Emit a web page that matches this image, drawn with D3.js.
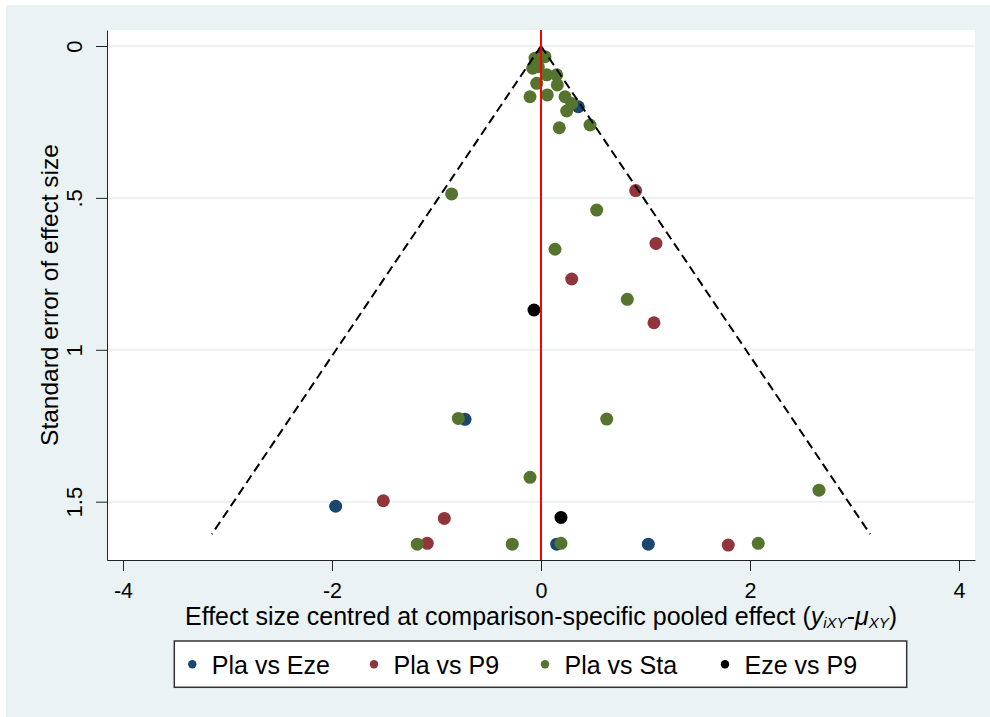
<!DOCTYPE html>
<html>
<head>
<meta charset="utf-8">
<script src="https://cdn.jsdelivr.net/npm/d3@7/dist/d3.min.js"></script>
<style>
  html, body { margin: 0; padding: 0; background: #ffffff; }
  svg { display: block; font-family: "Liberation Sans", Arial, sans-serif; }
</style>
</head>
<body>
<svg id="chart" width="990" height="717"></svg>
<script>
// Comparison-adjusted funnel plot: effect size centred at the comparison-specific
// pooled effect (x) against its standard error (y, inverted).

const seriesNames = ["Pla vs Eze", "Pla vs P9", "Pla vs Sta", "Eze vs P9"];

// Pla vs Eze
const plaEzeX  = [-0.005, 0.357, -0.727, -1.965, 0.150, 1.027];
const plaEzeSE = [ 0.033, 0.200,  1.229,  1.515, 1.640, 1.640];

// Pla vs P9
const plaP9X  = [0.906, 1.100, 0.294, 1.081, -1.509, -0.925, -1.088, 1.792];
const plaP9SE = [0.476, 0.650, 0.767, 0.911,  1.497,  1.555,  1.637, 1.643];

// Pla vs Sta
const plaStaX  = [-0.057, 0.038, -0.079, -0.026, 0.055, 0.150, -0.041, 0.156,
                  -0.105, 0.060,  0.230,  0.294, 0.246, 0.175,  0.469,
                  -0.855, 0.533,  0.134,  0.826, -0.791, 0.629, -0.105, 2.660,
                  -1.184, -0.275, 0.191,  2.079];
const plaStaSE = [ 0.040, 0.035,  0.073,  0.068, 0.095, 0.095,  0.123, 0.128,
                   0.167, 0.161,  0.167,  0.189, 0.214, 0.269,  0.260,
                   0.487, 0.540,  0.669,  0.834, 1.226, 1.228, 1.420, 1.462,
                   1.640, 1.640,  1.637,  1.637];

// Eze vs P9
const ezeP9X  = [-0.067, 0.191];
const ezeP9SE = [ 0.869, 1.552];

// Pseudo 95% limits drawn down to this standard error
const funnelMaxSE = 1.607;
const zCrit = 1.96;

const xTicks = [-4, -2, 0, 2, 4];
const yTicks = [0, 0.5, 1, 1.5];
const yTickLabels = ["0", ".5", "1", "1.5"];

// ---- styling ----
const colors = ["#1a476f", "#90353b", "#55752f", "#000000"];
const bg = "#eaf2f3";

const svg = d3.select("#chart");
const W = 990, H = 717;
const plot = { left: 107, right: 975, top: 30, bottom: 560 };

const x = d3.scaleLinear().domain([-4.153, 4.153]).range([plot.left, plot.right]);
const y = d3.scaleLinear().domain([-0.0527, 1.692]).range([plot.top, plot.bottom]);

// outer background
svg.append("rect").attr("x", 0).attr("y", 0).attr("width", W).attr("height", H).attr("fill", "#ffffff");
svg.append("rect").attr("x", 6).attr("y", 5).attr("width", W - 6).attr("height", H - 5).attr("fill", bg);

// plot region
svg.append("rect")
  .attr("x", plot.left).attr("y", plot.top)
  .attr("width", plot.right - plot.left).attr("height", plot.bottom - plot.top)
  .attr("fill", "#ffffff");

// horizontal grid lines
svg.append("g").selectAll("line").data(yTicks).join("line")
  .attr("x1", plot.left).attr("x2", plot.right)
  .attr("y1", d => y(d)).attr("y2", d => y(d))
  .attr("stroke", bg).attr("stroke-width", 2);

// markers, series by series
const seriesData = [
  [plaEzeX, plaEzeSE],
  [plaP9X, plaP9SE],
  [plaStaX, plaStaSE],
  [ezeP9X, ezeP9SE]
];
seriesData.forEach(([xs, ses], i) => {
  const pts = xs.map((v, j) => ({ x: v, se: ses[j] }));
  svg.append("g").selectAll("circle").data(pts).join("circle")
    .attr("cx", d => x(d.x)).attr("cy", d => y(d.se))
    .attr("r", 6.5)
    .attr("fill", colors[i]);
});

// funnel limits
const line = d3.line().x(d => x(d[0])).y(d => y(d[1]));
[-1, 1].forEach(s => {
  svg.append("path")
    .attr("d", line([[0, 0], [s * zCrit * funnelMaxSE, funnelMaxSE]]))
    .attr("fill", "none").attr("stroke", "#000").attr("stroke-width", 2)
    .attr("stroke-dasharray", "9,5");
});

// reference line at zero
svg.append("line")
  .attr("x1", x(0)).attr("x2", x(0))
  .attr("y1", plot.top).attr("y2", plot.bottom)
  .attr("stroke", "#ff0000").attr("stroke-width", 2);

// x axis
const gx = svg.append("g")
  .attr("transform", `translate(0,${plot.bottom})`)
  .call(d3.axisBottom(x).tickValues(xTicks).tickFormat(d => String(d))
        .tickSize(11).tickSizeOuter(0).tickPadding(11.5));
gx.select(".domain").attr("stroke", "#222");
gx.selectAll(".tick line").attr("stroke", "#222");
gx.selectAll("text").attr("font-size", 21.5).attr("fill", "#000")
  .attr("font-family", "Liberation Sans, Arial, sans-serif");

// y axis with vertical tick labels
const gy = svg.append("g")
  .attr("transform", `translate(${plot.left},0)`)
  .call(d3.axisLeft(y).tickValues(yTicks).tickFormat((d, i) => yTickLabels[i])
        .tickSize(11).tickSizeOuter(0));
gy.select(".domain").attr("stroke", "#222");
gy.selectAll(".tick line").attr("stroke", "#222");
gy.selectAll("text")
  .attr("transform", "rotate(-90)")
  .attr("x", 0).attr("y", -25).attr("dy", 0)
  .attr("text-anchor", "middle")
  .attr("font-size", 22).attr("fill", "#000")
  .attr("font-family", "Liberation Sans, Arial, sans-serif");

// axis titles
svg.append("text")
  .attr("transform", `translate(58,${(plot.top + plot.bottom) / 2}) rotate(-90)`)
  .attr("text-anchor", "middle").attr("font-size", 24.5).attr("fill", "#000")
  .text("Standard error of effect size");

const xt = svg.append("text")
  .attr("x", x(0)).attr("y", 624.5)
  .attr("text-anchor", "middle").attr("font-size", 25).attr("fill", "#000");
xt.append("tspan").text("Effect size centred at comparison-specific pooled effect (");
xt.append("tspan").attr("font-style", "italic").text("y");
xt.append("tspan").attr("font-style", "italic").attr("font-size", 15).attr("dy", 3).text("iXY");
xt.append("tspan").attr("dy", -3).text("-");
xt.append("tspan").attr("font-style", "italic").text("μ");
xt.append("tspan").attr("font-style", "italic").attr("font-size", 15).attr("dy", 3).text("XY");
xt.append("tspan").attr("dy", -3).text(")");

// legend
svg.append("rect")
  .attr("x", 174.3).attr("y", 641).attr("width", 732.4).attr("height", 46.3)
  .attr("fill", "#ffffff").attr("stroke", "#333").attr("stroke-width", 1.5);
const legendDotX = [192.3, 374, 545, 725];
const lg = svg.append("g").selectAll("g").data(seriesNames).join("g")
  .attr("transform", (d, i) => `translate(${legendDotX[i]},664.3)`);
lg.append("circle").attr("r", 4.2).attr("fill", (d, i) => colors[i]);
lg.append("text").attr("x", 19.5).attr("y", 10).attr("font-size", 25).attr("fill", "#000")
  .text(d => d);
</script>
</body>
</html>
